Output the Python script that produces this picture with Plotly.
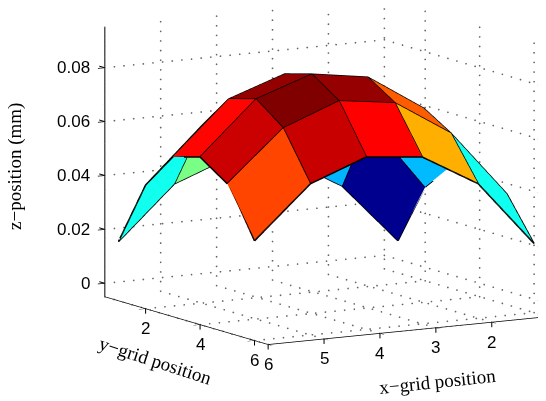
import math
import plotly.graph_objects as go

x_vals = [1, 2, 3, 4, 5, 6]
y_vals = [1, 2, 3, 4, 5, 6]
z_rows = [
    [.0069, .0298, .0409, .0430, .0361, .0206],
    [.0293, .0563, .0640, .0670, .0607, .0449],
    [.0414, .0660, .0775, .0806, .0740, .0569],
    [.0442, .0650, .0809, .0838, .0768, .0590],
    [.0363, .0607, .0737, .0766, .0688, .0511],
    [.0169, .0409, .0543, .0572, .0502, .0320],
]
x_range = [1, 6]
y_range = [0.5, 6.5]
z_range = [-0.005, 0.095]
x_ticks = [1, 2, 3, 4, 5, 6]
x_labelled = [2, 3, 4, 5, 6]
y_ticks = [2, 4, 6]
z_ticks = [0, 0.02, 0.04, 0.06, 0.08]
z_labels = ["0", "0.02", "0.04", "0.06", "0.08"]

jet = [[0, "rgb(0,0,143)"], [0.111, "rgb(0,0,255)"], [0.365, "rgb(0,255,255)"],
       [0.619, "rgb(255,255,0)"], [0.873, "rgb(255,0,0)"], [0.906, "rgb(205,0,0)"],
       [0.96, "rgb(150,0,0)"], [1, "rgb(128,0,0)"]]

n = len(x_vals)
m = len(y_vals)
vx, vy, vz = [], [], []
for a in range(n):
    for b in range(m):
        vx.append(x_vals[a]); vy.append(y_vals[b]); vz.append(z_rows[a][b])
I, J, K, C = [], [], [], []
for a in range(n - 1):
    for b in range(m - 1):
        p = a * m + b
        q = (a + 1) * m + b
        r = (a + 1) * m + b + 1
        s = a * m + b + 1
        I += [p, p]; J += [q, r]; K += [r, s]
        C += [z_rows[a][b]] * 2

fig = go.Figure()
fig.add_trace(go.Mesh3d(x=vx, y=vy, z=vz, i=I, j=J, k=K, intensity=C, intensitymode="cell",
                        colorscale=jet, cmin=min(vz), cmax=max(C), showscale=False, flatshading=True,
                        lighting=dict(ambient=1, diffuse=0, specular=0, roughness=1, fresnel=0),
                        hoverinfo="skip"))
# mesh edges
ex, ey, ez = [], [], []
for a in range(n):
    for b in range(m):
        ex.append(x_vals[a]); ey.append(y_vals[b]); ez.append(z_rows[a][b])
    ex.append(None); ey.append(None); ez.append(None)
for b in range(m):
    for a in range(n):
        ex.append(x_vals[a]); ey.append(y_vals[b]); ez.append(z_rows[a][b])
    ex.append(None); ey.append(None); ez.append(None)
fig.add_trace(go.Scatter3d(x=ex, y=ey, z=ez, mode="lines", line=dict(color="black", width=3), hoverinfo="skip"))
# dotted grid on back walls: rows of small points
gx, gy, gz = [], [], []
px_per = (56.3, 28.5, 2700.0)
def seg(p0, p1):
    length = math.sqrt(sum(((p1[i] - p0[i]) * px_per[i]) ** 2 for i in range(3)))
    steps = int(length / 9.5)
    for s in range(steps + 1):
        f = s / steps
        gx.append(p0[0] + (p1[0] - p0[0]) * f)
        gy.append(p0[1] + (p1[1] - p0[1]) * f)
        gz.append(p0[2] + (p1[2] - p0[2]) * f)
for t in x_ticks:
    seg((t, y_range[0], z_range[0]), (t, y_range[1], z_range[0]))
    seg((t, y_range[0], z_range[0]), (t, y_range[0], z_range[1]))
for t in y_ticks:
    seg((x_range[0], t, z_range[0]), (x_range[1], t, z_range[0]))
    seg((x_range[0], t, z_range[0]), (x_range[0], t, z_range[1]))
for t in z_ticks:
    seg((x_range[0], y_range[0], t), (x_range[1], y_range[0], t))
    seg((x_range[0], y_range[0], t), (x_range[0], y_range[1], t))
fig.add_trace(go.Scatter3d(x=gx, y=gy, z=gz, mode="markers",
                           marker=dict(color="#666", size=1, line=dict(width=0)), hoverinfo="skip"))

phi = math.radians(59.7)
el = math.radians(9.84)
d = 1.25
R = (-math.sin(phi), math.cos(phi), 0)
U = (-math.cos(phi) * math.sin(el), -math.sin(phi) * math.sin(el), math.cos(el))
k = 203.0
off_r, off_u = -45.8 / k, -37.0 / k
cen = [off_r * R[i] + off_u * U[i] for i in range(3)]
view = (math.cos(el) * math.cos(phi), math.cos(el) * math.sin(phi), math.sin(el))
eye = [cen[i] + d * view[i] for i in range(3)]

tick = dict(family="Liberation Sans", size=17, color="black")
lab = dict(family="Liberation Serif", size=19, color="black")
common = dict(showbackground=False, showgrid=False, zeroline=False, showline=True, linecolor="black",
              linewidth=1.5, ticks="outside", ticklen=8, tickcolor="black", tickwidth=1.5,
              showticklabels=True, tickfont=dict(size=1, color="rgba(0,0,0,0)"),
              showspikes=False, autorange=False, tickmode="array", title=dict(text=""))
zcommon = dict(common, linecolor="#555", linewidth=3)
PAGE = 8  # the page body offsets the figure
def ann(text, px, py, angle):
    return dict(text=text, xref="paper", yref="paper", x=(px - PAGE) / 546, y=1 - (py - PAGE) / 401, textangle=angle,
                showarrow=False, xanchor="center", yanchor="middle", font=lab)
def tick_mark(tx, ty, tz, ax, ay):
    return dict(x=tx, y=ty, z=tz, text=" ", showarrow=True, arrowhead=0, arrowwidth=1, arrowcolor="black",
                ax=ax, ay=ay, standoff=0, startstandoff=0, font=dict(size=1))
scene_ann = []
for t in x_labelled:
    scene_ann.append(dict(x=t, y=y_range[1], z=z_range[0], text=str(t), showarrow=False, yshift=-20, font=tick))
for t in y_ticks:
    scene_ann.append(dict(x=x_range[1], y=t, z=z_range[0], text=str(t), showarrow=False, yshift=-20, font=tick))
for t, s in zip(z_ticks, z_labels):
    scene_ann.append(dict(x=x_range[1], y=y_range[0], z=t, text=s, showarrow=False, xanchor="right", xshift=-13, font=tick))
for t in x_ticks:
    scene_ann.append(tick_mark(t, y_range[1], z_range[0], 0, 7))
for t in y_ticks:
    scene_ann.append(tick_mark(x_range[1], t, z_range[0], 0, 7))
for t in z_ticks:
    scene_ann.append(tick_mark(x_range[1], y_range[0], t, -7, -2))
fig.update_layout(
    width=546, height=401, margin=dict(l=0, r=0, t=0, b=0), showlegend=False, paper_bgcolor="white",
    annotations=[ann("x\u2212grid position", 437, 381, -6),
                 ann("y\u2212grid position", 155, 360, 18),
                 ann("z\u2212position (mm)", 15, 167, -90)],
    scene=dict(
        domain=dict(x=[0, 1], y=[0, 1]),
        aspectmode="manual", aspectratio=dict(x=1.615, y=1.615, z=1.364),
        camera=dict(projection=dict(type="orthographic"), up=dict(x=0, y=0, z=1),
                    center=dict(x=cen[0], y=cen[1], z=cen[2]),
                    eye=dict(x=eye[0], y=eye[1], z=eye[2])),
        xaxis=dict(common, range=x_range, tickvals=x_ticks),
        yaxis=dict(common, range=y_range, tickvals=y_ticks),
        zaxis=dict(zcommon, range=z_range, tickvals=z_ticks),
        annotations=scene_ann,
    ),
)
fig.write_html("out.html")
